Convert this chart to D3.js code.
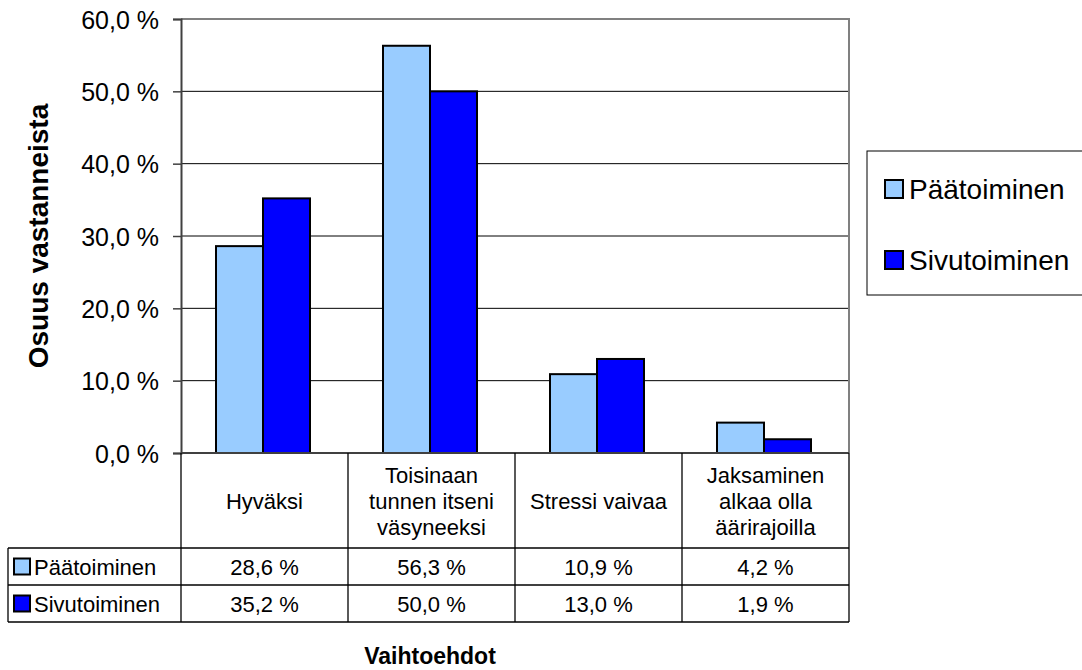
<!DOCTYPE html>
<html>
<head>
<meta charset="utf-8">
<style>
  body { margin: 0; background: #fff; }
  text { font-family: Arial, "Liberation Sans", sans-serif; }
</style>
</head>
<body>
<svg width="1082" height="670"></svg>
<script src="https://d3js.org/d3.v7.min.js"></script>
<script>
var categories = [
  ["Hyväksi"],
  ["Toisinaan", "tunnen itseni", "väsyneeksi"],
  ["Stressi vaivaa"],
  ["Jaksaminen", "alkaa olla", "äärirajoilla"]
];
var seriesNames = ["Päätoiminen", "Sivutoiminen"];
var paatoiminen = [28.6, 56.3, 10.9, 4.2];
var sivutoiminen = [35.2, 50.0, 13.0, 1.9];
var yTicks = [0, 10, 20, 30, 40, 50, 60];
var colors = ["#99ccff", "#0000ff"];

var svg = d3.select("svg");
var plotLeft = 181, plotRight = 849, plotTop = 19, plotBottom = 453;
var rowH = 37, catH = 95;

var fmt = function(v) { return d3.format(".1f")(v).replace(".", ",") + " %"; };

var x = d3.scaleBand().domain(d3.range(categories.length)).range([plotLeft, plotRight]);
var xs = d3.scaleBand().domain([0, 1]).range([0, 94]);
var y = d3.scaleLinear().domain([0, 60]).range([plotBottom, plotTop]);

// gridlines
svg.append("g").selectAll("line")
  .data(yTicks.slice(1, -1))
  .enter().append("line")
    .attr("x1", plotLeft).attr("x2", plotRight)
    .attr("y1", function(d) { return y(d); }).attr("y2", function(d) { return y(d); })
    .attr("stroke", "#000").attr("stroke-width", 1);

// plot border (top/right gray)
svg.append("path")
  .attr("d", "M" + plotLeft + "," + plotTop + "H" + plotRight + "V" + plotBottom)
  .attr("fill", "none").attr("stroke", "#808080").attr("stroke-width", 2);

// bars
var data = [paatoiminen, sivutoiminen];
var groups = svg.append("g").selectAll("g")
  .data(data).enter().append("g")
    .attr("fill", function(d, i) { return colors[i]; });
groups.selectAll("rect")
  .data(function(d, i) { return d.map(function(v, j) { return {v: v, c: j, s: i}; }); })
  .enter().append("rect")
    .attr("x", function(d) { return x(d.c) + 35 + xs(d.s); })
    .attr("width", xs.bandwidth())
    .attr("y", function(d) { return y(d.v); })
    .attr("height", function(d) { return plotBottom - y(d.v); })
    .attr("stroke", "#000").attr("stroke-width", 2);

// y axis
var yAxis = svg.append("g")
  .attr("transform", "translate(" + plotLeft + ",0)")
  .call(d3.axisLeft(y).tickValues(yTicks).tickSize(8).tickPadding(14).tickFormat(fmt));
yAxis.select(".domain").attr("stroke", "#404040").attr("stroke-width", 2);
yAxis.selectAll(".tick line").attr("stroke", "#404040").attr("stroke-width", 1.5);
yAxis.selectAll("text").attr("font-size", "25px").attr("fill", "#000").attr("dy", "0.36em")
  .style("font-family", "Arial, 'Liberation Sans', sans-serif");

// baseline
svg.append("line")
  .attr("x1", plotLeft).attr("x2", plotRight).attr("y1", plotBottom).attr("y2", plotBottom)
  .attr("stroke", "#404040").attr("stroke-width", 2);

// data table
var tableLeft = 8;
var t = svg.append("g").attr("stroke", "#000").attr("stroke-width", 1.3);
var bounds = x.domain().map(function(d) { return x(d); }).concat([plotRight]);
t.selectAll("line.v").data(bounds).enter().append("line")
  .attr("x1", function(d) { return d; }).attr("x2", function(d) { return d; })
  .attr("y1", plotBottom).attr("y2", plotBottom + catH + 2 * rowH);
[plotBottom + catH, plotBottom + catH + rowH, plotBottom + catH + 2 * rowH].forEach(function(yy) {
  t.append("line").attr("x1", tableLeft).attr("x2", plotRight).attr("y1", yy).attr("y2", yy);
});
t.append("line").attr("x1", tableLeft).attr("x2", tableLeft)
  .attr("y1", plotBottom + catH).attr("y2", plotBottom + catH + 2 * rowH);

// category labels
categories.forEach(function(lines, i) {
  var cx = x(i) + x.bandwidth() / 2;
  var cy = plotBottom + catH / 2;
  var lh = 26;
  var txt = svg.append("text").attr("text-anchor", "middle").attr("font-size", "22px");
  lines.forEach(function(l, k) {
    txt.append("tspan").attr("x", cx)
      .attr("y", cy + (k - (lines.length - 1) / 2) * lh + 8).text(l);
  });
});

// table rows
data.forEach(function(row, s) {
  var cy = plotBottom + catH + rowH * s + rowH / 2 + 8;
  svg.append("rect")
    .attr("x", 14).attr("y", cy - 16).attr("width", 16).attr("height", 16)
    .attr("fill", colors[s]).attr("stroke", "#000").attr("stroke-width", 2);
  svg.append("text").attr("x", 34).attr("y", cy).attr("font-size", "22px").text(seriesNames[s]);
  row.forEach(function(v, j) {
    svg.append("text").attr("x", x(j) + x.bandwidth() / 2).attr("y", cy)
      .attr("text-anchor", "middle").attr("font-size", "22px").text(fmt(v));
  });
});

// axis titles
svg.append("text")
  .attr("transform", "translate(48," + ((plotTop + plotBottom) / 2) + ") rotate(-90)")
  .attr("text-anchor", "middle").attr("font-size", "28px").attr("font-weight", "bold")
  .text("Osuus vastanneista");
svg.append("text")
  .attr("x", 430).attr("y", 664)
  .attr("text-anchor", "middle").attr("font-size", "23px").attr("font-weight", "bold")
  .text("Vaihtoehdot");

// legend
var lg = svg.append("g");
lg.append("rect").attr("x", 867).attr("y", 151).attr("width", 220).attr("height", 144)
  .attr("fill", "#fff").attr("stroke", "#000").attr("stroke-width", 1);
seriesNames.forEach(function(n, i) {
  var cy = 199 + i * 71;
  lg.append("rect").attr("x", 885).attr("y", cy - 19).attr("width", 18).attr("height", 18)
    .attr("fill", colors[i]).attr("stroke", "#000").attr("stroke-width", 2);
  lg.append("text").attr("x", 909).attr("y", cy).attr("font-size", "28px").text(n);
});
</script>
</body>
</html>
